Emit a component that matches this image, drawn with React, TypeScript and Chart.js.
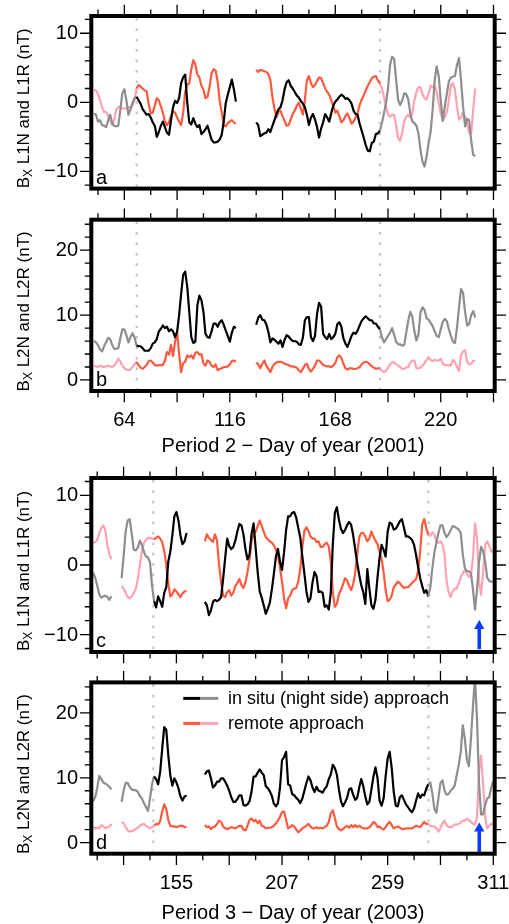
import React, { useEffect, useRef } from "react";
import { Chart, registerables } from "chart.js";

Chart.register(...registerables);

// ---------------- axes / categories ----------------
const P2_RANGE = [47.7, 246.6];
const P3_RANGE = [113.1, 311.7];
const P2_SEG_STARTS = [49, 129];
const P3_SEG_STARTS = [114, 128, 169];
const P2_BOUNDS = [70, 190];
const P3_BOUNDS = [144, 279];
const P2_DOTTED = [70.1, 190];
const P3_DOTTED = [143.6, 279.1];
const P2_MAJOR_TICKS = [64, 90, 116, 142, 168, 194, 220, 246];
const P2_MINOR_TICKS = [51, 77, 103, 129, 155, 181, 207, 233];
const P2_TICK_LABELS = [64, 116, 168, 220];
const P3_MAJOR_TICKS = [129, 155, 181, 207, 233, 259, 285, 311];
const P3_MINOR_TICKS = [116, 142, 168, 194, 220, 246, 272, 298];
const P3_TICK_LABELS = [155, 207, 259, 311];
const L1_Y_MAJOR = [-10, 0, 10];
const L1_Y_MINOR = [-12, -8, -6, -4, -2, 2, 4, 6, 8, 12];
const L2_Y_MAJOR = [0, 10, 20];
const L2_Y_MINOR = [2, 4, 6, 8, 12, 14, 16, 18, 22, 24];
const ARROW_DAY = 304.1;
const ARROW_C = [-12.1, -7.9];
const ARROW_D = [-1.5, 3.1];

// ---------------- Period 2 (2001) ----------------
// panel a, in situ: days 49-119, 129-237
const aInSitu1 = [
  -1.6, -1.8, -2.8, -2.6, -3.3, -3.4, -3.6, -2.6, -1.8, -3.0, -3.4, -3.5, -3.4, -1.1, 1.3, 1.9, 0.3, -1.8, -1.1, -0.1, 0.6, 0.8,
  0.3, -0.2, -1.0, -1.4, -1.8, -1.7, -2.2, -2.9, -3.4, -5.0, -4.3, -3.4, -2.8, -3.6, -4.4, -4.7, -2.6, -0.7, 0.2, -0.1,
  0.6, 2.8, 3.6, 4.0, 0.0, -2.9, -3.2, -2.3, -3.1, -3.6, -3.3, -4.6, -4.3, -3.9, -3.4, -4.4, -5.4, -5.8, -5.8, -5.7,
  -5.4, -4.7, -2.8, -0.1, 1.1, 2.2, 3.3, 1.9, 0.1,
];
const aInSitu2 = [
  -2.9, -3.3, -4.9, -4.7, -4.5, -4.4, -3.9, -4.3, -3.4, -2.6, -1.7, -1.0, -0.7, 0.3, 1.9, 2.9, 3.2, 2.4, 2.0, 1.5,
  1.0, 0.7, 0.2, -0.2, -0.7, -1.8, -3.3, -2.2, -1.7, -2.5, -3.6, -5.1, -3.8, -2.9, -1.7, -2.2, -2.8, -1.6, -0.5, 0.1,
  0.4, 0.8, 1.1, 0.9, 0.5, 0.6, 0.3, -0.2, -1.2, -1.7, -1.8, -3.1, -4.1, -5.1, -6.2, -7.0, -7.1, -5.9, -5.7, -4.6,
  -4.5, -4.1,
  -3.0, -1.6, -0.1, 2.0, 5.4, 6.6, 6.3, 3.2, 0.3, -0.4, 0.3, 1.3, 1.2, 0.4, -1.6, -2.8, -3.0, -3.4, -4.5, -6.9,
  -8.6, -9.3, -7.9, -5.9, -4.3, -1.1, 3.2, 5.2, 3.8, 0.3, -2.7, -0.6, 1.2, 3.0, 3.6, 3.7, 3.8, 5.4, 6.4, 3.2,
  -0.6, -3.5, -2.4, -2.6, -5.5, -7.6, -7.8,
];
// panel a, remote
const aRemote1 = [
  1.8, 1.7, 1.2, 0.3, -0.7, -1.4, -1.4, -2.0, -2.7, -3.3, -2.5, -1.1, -0.7, -0.6, -0.9, -0.9, -0.9, -0.7, -0.7, -0.4, 0.3, 2.0,
  2.5, 2.3, 2.0, 1.7, 1.6, -0.3, -1.6, -1.5, -0.5, 0.6, 0.3, -0.6, -1.5, -2.8, -3.3, -2.9, -2.0, -1.3, -1.5, -2.2,
  -2.8, -3.3, -1.5, 1.5, 2.6, 2.7, 4.8, 6.1, 5.5, 4.0, 3.6, 2.4, 1.8, 0.6, 0.8, 2.2, 4.2, 4.8, 4.6, 3.0,
  0.2, -1.5, -3.3, -3.5, -3.0, -2.8, -2.6, -2.9, -3.1,
];
const aRemote2 = [
  4.7, 4.4, 4.7, 4.6, 4.5, 4.4, 4.1, 3.2, 0.8, -0.9, -2.2, -1.4, -1.2, -2.0, -2.7, -3.4, -3.3, -2.5, -1.7, -1.2,
  -0.5, -0.05, -0.9, -1.8, 0.3, 3.2, 3.8, 2.8, 2.2, 2.5, 3.1, 3.6, 3.5, 2.8, 2.0, 1.5, 1.1, 0.3, -0.5, -1.5,
  -1.2, -2.0, -2.9, -2.6, -2.0, -1.6, -2.3, -3.1, -2.8, -2.2, -1.6, -0.4, 0.4, 1.0, 1.7, 2.4, 2.9, 3.5, 3.7, 3.8,
  3.2, 2.7,
  2.0, 0.8, -0.7, -1.7, -2.1, -1.8, -1.8, -3.4, -5.2, -5.6, -4.4, -2.7, -2.1, -1.8, -2.2, -1.5, 0.3, 1.5, 2.2, 2.2,
  1.2, 0.6, 0.4, 1.3, 2.4, 2.2, 2.4, 1.5, -0.1, -1.6, -2.5, -2.2, -1.4, 0.3, 2.4, 2.8, 1.8, -0.6, -2.5, -2.2,
  -1.5, -2.1, -3.0, -4.4, -4.5, -1.1, 2.0,
];
// panel b, in situ
const bInSitu1 = [
  6.0, 5.8, 5.4, 4.7, 4.4, 5.2, 5.8, 6.5, 6.3, 5.4, 4.8, 4.8, 4.9, 6.4, 7.8, 7.8, 6.9, 5.8, 6.6, 7.2, 6.6, 5.3,
  5.2, 5.2, 4.9, 4.5, 4.5, 4.5, 4.9, 5.6, 5.8, 6.3, 7.5, 7.9, 8.4, 8.0, 8.2, 7.5, 7.8, 7.5, 6.6, 7.4,
  10.0, 13.3, 16.2, 16.7, 14.4, 10.5, 6.6, 5.7, 5.9, 11.5, 13.0, 12.3, 10.5, 7.1, 6.6, 6.5, 7.5, 8.7, 8.7, 8.2,
  8.9, 9.2, 8.5, 7.6, 6.8, 5.9, 7.3, 8.2, 8.0,
];
const bInSitu2 = [
  8.5, 9.6, 10.0, 9.3, 9.2, 8.6, 7.4, 5.8, 6.4, 6.2, 5.9, 5.6, 6.1, 5.1, 6.2, 6.9, 6.7, 6.3, 6.0, 6.0,
  5.9, 5.5, 5.4, 6.5, 9.2, 9.7, 9.7, 6.6, 6.0, 6.8, 10.2, 11.9, 11.3, 7.1, 6.6, 6.3, 7.1, 6.3, 6.6, 7.1,
  8.6, 8.9, 8.2, 6.4, 5.6, 5.1, 5.9, 6.8, 7.3, 7.1, 7.6, 8.4, 9.1, 9.5, 9.8, 9.5, 9.2, 9.2, 8.7, 8.7,
  8.2, 7.8,
  6.6, 5.8, 6.3, 6.8, 7.3, 8.0, 7.0, 5.9, 5.5, 5.5, 5.3, 5.4, 7.3, 9.2, 10.5, 9.7, 7.5, 6.1, 7.0, 10.4,
  11.2, 10.8, 9.5, 9.3, 8.8, 8.3, 7.5, 6.8, 6.6, 7.8, 9.0, 9.4, 9.1, 7.8, 6.8, 5.9, 5.7, 8.0, 11.2, 14.0,
  13.4, 10.5, 8.4, 8.6, 10.0, 10.6, 9.6,
];
// panel b, remote
const bRemote1 = [
  2.2, 2.1, 2.0, 2.2, 2.1, 2.0, 2.1, 2.2, 2.1, 2.0, 2.2, 2.6, 3.3, 2.9, 2.2, 1.8, 1.6, 1.5, 1.6, 2.0, 2.4, 2.8,
  2.3, 1.9, 1.7, 2.0, 2.3, 2.9, 3.0, 2.7, 2.3, 2.2, 2.3, 2.3, 2.3, 3.0, 4.3, 3.9, 5.4, 3.7, 5.9, 7.5,
  4.0, 1.2, 2.6, 2.8, 3.8, 3.5, 3.8, 3.3, 4.2, 4.3, 3.9, 4.0, 2.5, 2.2, 3.0, 2.8, 2.2, 2.0, 2.4, 1.5,
  1.7, 1.8, 2.0, 2.0, 2.1, 2.4, 2.9, 3.0, 2.8,
];
const bRemote2 = [
  2.7, 2.4, 1.8, 2.5, 3.0, 2.2, 1.7, 1.2, 2.0, 2.5, 2.7, 2.8, 2.8, 2.7, 2.5, 2.4, 2.3, 2.1, 2.1, 2.0,
  1.9, 1.5, 1.2, 1.7, 2.3, 2.5, 1.7, 1.3, 1.7, 2.2, 3.0, 3.0, 2.7, 2.3, 2.2, 2.1, 2.1, 2.0, 2.2, 2.6,
  3.5, 3.8, 3.4, 2.5, 1.8, 1.6, 1.8, 1.8, 1.7, 1.7, 1.8, 2.0, 2.4, 2.7, 2.8, 2.7, 2.4, 2.1, 1.9, 1.7,
  1.8, 1.8,
  1.4, 1.2, 1.4, 1.9, 2.4, 2.7, 2.7, 2.4, 2.2, 2.0, 1.7, 1.7, 1.9, 2.0, 2.7, 3.0, 3.0, 1.8, 1.8, 1.9,
  2.2, 2.6, 3.1, 3.5, 3.1, 2.9, 3.1, 3.0, 3.0, 3.3, 2.5, 2.3, 2.3, 2.3, 2.2, 3.1, 2.8, 2.0, 1.4, 3.8,
  4.4, 4.6, 2.8, 2.4, 2.5, 2.9, 3.0,
];

// ---------------- Period 3 (2003) ----------------
// panel c, in situ: days 114-123, 128-160, 169-311
const cInSitu1 = [-1.1, -1.8, -2.9, -4.2, -4.7, -4.5, -4.4, -4.6, -5.0, -4.5];
const cInSitu2 = [
  -1.9, 1.2, 4.8, 6.4, 6.6, 4.5, 2.2, 2.1, 2.5, 3.5, 2.9, 1.9, 1.2, 1.1, 0.4, -3.0,
  -5.2, -6.1, -4.5, -5.2, -6.0, -4.0, -3.2, 0.5, 1.9, 4.3, 7.0, 7.6, 6.4, 4.2, 3.0, 3.4, 4.6,
];
const cInSitu3 = [
  -5.3, -5.8, -7.2, -6.5, -5.3, -5.0, -5.2, -5.0, -4.6, -2.0, 1.0, 3.8, 2.7, 2.3, 2.6, 3.5, 4.8, 5.9, 5.7, 4.4,
  2.3, 0.8, 1.5, 4.5, 6.0, 2.5, -1.0, -3.8, -4.7, -5.8, -7.0, -6.3, -5.4, -3.5, -1.2, 1.2, 2.3, 0.5, -0.7, 1.8,
  5.0, 7.0,
  7.0, 7.5, 7.6, 6.8, 5.3, 3.9, 1.2, -1.2, -3.8, -5.3, -4.8, -2.5, -1.0, -1.6, -3.9, -3.8, -4.0, -6.0, -5.8, -6.4,
  -4.0, 3.0, 7.5, 8.3, 6.5, 5.2, 4.6, 5.0, 5.7, 6.2, 5.8, 4.3, 2.3, 0.3, -1.4, -2.9, -3.9, -5.6, -0.6, -3.4,
  -5.8, -6.3, -5.0, -1.8, 1.0, 2.9, 2.2, 1.2, 4.8, 6.1, 5.9, 5.1, 5.2, 5.7, 6.3, 6.6, 5.4, 4.1, 4.1, 3.9,
  3.6, 2.9, 1.4, -0.3, -1.9, -3.0, -4.0, -3.6,
  -4.5, -3.2, -0.5, 1.8, 3.2, 4.6, 5.7, 5.7, 4.6, 4.0, 4.4, 5.0, 5.6, 5.5, 5.3, 5.1, 4.6, 1.5, -0.4, -0.9,
  -0.9, -1.2, -3.5, -6.4, -3.5, 0.5, 2.6, 2.0, 0.5, -1.8, -2.3, -2.4, -2.4,
];
// panel c, remote
const cRemote1 = [3.2, 3.3, 3.6, 4.6, 5.3, 5.7, 5.0, 2.8, 1.6, 0.8];
const cRemote2 = [
  -3.0, -3.4, -4.0, -4.6, -4.8, -4.5, -4.0, -3.4, -2.0, 0.0, 2.0, 3.2, 3.6, 3.9, 3.9, 3.8,
  3.7, 3.9, 4.1, 3.8, 3.3, 2.0, 0.0, -2.6, -4.5, -4.2, -3.5, -3.8, -4.2, -4.6, -4.1, -3.8, -3.7,
];
const cRemote3 = [
  3.4, 4.4, 3.9, 3.6, 3.3, 4.4, 3.5, 0.0, -2.5, -4.4, -4.6, -3.9, -3.6, -4.4, -4.0, -3.0, -2.6, -2.0, -2.9, -3.3,
  -2.5, -1.0, 0.8, 3.5, 4.4, 4.8, 5.6, 6.4, 5.6, 4.8, 4.0, 3.7, 3.4, 3.2, 2.8, 2.2, 1.4, -0.4, -2.4, -4.8,
  -6.2,
  -4.8, -4.4, -3.6, -3.4, -3.3, -2.4, -0.5, 2.6, 4.9, 5.4, 4.9, 4.1, 3.8, 3.8, 3.3, 3.4, 2.6, 2.6, 3.0, 3.2,
  2.7, 0.5, -4.0, -6.0, -5.6, -4.2, -3.6, -2.8, -1.9, -2.2, -3.0, -3.6, -2.8, -1.2, 1.5, 4.0, 4.6, 4.6, 4.1, 3.4,
  3.8, 4.8, 4.1, 3.5, 3.0, 1.9, 0.9, -1.0, -3.6, -5.2, -5.0, -4.4, -3.2, -2.8, -2.4, -2.6, -3.0, -3.3, -3.2, -3.2,
  -2.9, -2.6, -2.3, -2.0, -0.8, 1.9, 5.8, 6.6, 5.3,
  4.3, 4.2, 4.7, 4.4, 3.4, 3.2, 3.4, 3.0, 1.5, -2.3, -3.9, -4.6, -3.8, -3.4, -3.4, -2.6, -1.7, -1.2, -0.7, -1.2,
  -1.7, -1.5, 1.0, 6.0, 4.0, -2.5, -4.3, -1.0, 2.8, 3.4, 2.8, 2.0, 1.8,
];
// panel d, in situ
const dInSitu1 = [6.4, 7.0, 8.4, 10.3, 9.8, 9.3, 9.1, 8.9, 8.6, 8.2];
const dInSitu2 = [
  6.3, 8.0, 9.2, 9.2, 8.6, 8.2, 8.1, 8.1, 7.8, 7.2, 6.8, 6.1, 5.5, 4.9, 6.8, 9.0,
  10.2, 9.8, 9.0, 10.9, 14.5, 17.8, 17.4, 13.5, 10.4, 8.8, 9.9, 9.3, 8.4, 7.1, 6.5, 7.1, 7.3,
];
const dInSitu3 = [
  10.5, 11.0, 11.1, 9.9, 8.5, 8.8, 9.4, 9.4, 9.9, 9.9, 9.4, 8.8, 8.0, 7.0, 6.3, 6.3, 6.7, 7.3, 7.3, 5.8,
  5.7, 5.9, 6.4, 7.9, 10.2, 10.2, 10.8, 11.3, 10.8, 10.4, 8.7, 8.4, 7.9, 7.2, 6.0, 5.6, 6.1, 8.5, 12.7, 13.2,
  14.0, 9.0,
  8.8, 7.5, 7.3, 6.9, 6.6, 6.1, 6.8, 8.0, 9.2, 10.2, 9.6, 8.5, 7.8, 8.6, 8.0, 7.9, 7.7, 8.3, 8.7, 9.8,
  10.5, 12.0, 11.5, 10.5, 8.2, 6.4, 5.6, 6.2, 6.9, 8.2, 8.4, 7.4, 6.6, 6.9, 8.5, 9.8, 8.7, 7.1, 5.9, 6.3,
  8.2, 10.2, 11.6, 10.0, 6.5, 5.7, 6.8, 10.2, 13.0, 14.0, 11.5, 7.8, 5.7, 5.6, 7.0, 7.3, 6.6, 5.9, 5.5, 5.0,
  4.7, 5.3, 6.5, 7.6, 6.9, 7.4, 7.3, 8.3,
  9.0, 9.3, 7.6, 5.2, 4.6, 6.9, 9.2, 9.6, 8.0, 7.4, 7.5, 8.0, 8.3, 8.8, 10.4, 12.0, 14.0, 18.1, 16.0, 12.8,
  11.8, 16.0, 21.0, 25.5, 19.0, 9.0, 4.3, 4.4, 5.8, 6.8, 7.0, 8.5, 9.5,
];
// panel d, remote
const dRemote1 = [2.4, 2.2, 2.3, 2.2, 2.7, 2.5, 2.2, 2.4, 2.5, 2.9];
const dRemote2 = [
  3.2, 3.0, 2.4, 1.9, 1.7, 1.8, 1.9, 2.1, 2.3, 2.6, 2.8, 2.9, 2.6, 2.4, 2.2, 2.4,
  2.6, 2.9, 2.8, 3.3, 4.8, 5.9, 5.2, 3.5, 2.6, 2.5, 2.5, 2.4, 2.5, 2.6, 2.6, 2.4, 2.4,
];
const dRemote3 = [
  2.7, 2.4, 2.5, 2.1, 2.4, 2.5, 2.9, 3.4, 3.2, 2.5, 2.2, 2.1, 2.2, 2.4, 2.3, 2.2, 2.4, 2.6, 2.6, 2.0,
  1.9, 2.6, 3.5, 3.7, 3.3, 3.5, 3.0, 3.4, 2.6, 2.5, 2.2, 2.3, 2.3, 2.4, 2.6, 3.0, 3.4, 4.0, 4.7, 4.8,
  3.5, 2.2,
  2.4, 2.7, 2.5, 2.0, 1.6, 1.9, 2.2, 2.4, 2.6, 2.9, 2.5, 2.2, 2.2, 2.4, 2.2, 2.3, 2.2, 2.4, 2.6, 3.2,
  4.5, 5.0, 3.8, 2.5, 2.1, 1.9, 2.1, 2.4, 2.6, 2.3, 2.7, 2.4, 2.7, 2.4, 2.6, 2.4, 2.2, 2.2, 2.2, 2.4,
  2.7, 3.2, 3.0, 2.4, 2.5, 2.2, 2.0, 2.4, 2.9, 3.2, 2.7, 2.2, 2.4, 2.5, 2.3, 2.1, 2.1, 2.2, 2.2, 2.2,
  2.2, 2.4, 2.6, 2.5, 2.4, 2.8, 3.2, 2.9,
  2.9, 2.6, 2.5, 2.5, 2.2, 1.7, 2.3, 3.0, 3.4, 2.7, 2.4, 2.4, 2.5, 2.8, 2.8, 2.9, 3.1, 3.4, 3.4, 3.7,
  3.5, 3.2, 2.9, 2.8, 4.0, 11.0, 13.4, 9.0, 4.0, 2.2, 2.6, 2.9, 2.9,
];

// ---------------- styling ----------------
const FONT = '"Liberation Sans", Arial, Helvetica, sans-serif';
const COLORS = {
  insituDark: "#000000",
  insituLight: "#8e8e8e",
  remoteDark: "#ff5a3f",
  remoteLight: "#ffa3b3",
  dotted: "#c4c4c4",
  arrow: "#0a3cff",
};

const PERIODS: any = {
  2: { range: P2_RANGE, starts: P2_SEG_STARTS, bounds: P2_BOUNDS, dotted: P2_DOTTED, major: P2_MAJOR_TICKS, minor: P2_MINOR_TICKS, labels: P2_TICK_LABELS },
  3: { range: P3_RANGE, starts: P3_SEG_STARTS, bounds: P3_BOUNDS, dotted: P3_DOTTED, major: P3_MAJOR_TICKS, minor: P3_MINOR_TICKS, labels: P3_TICK_LABELS },
};

const PANELS: any[] = [
  {
    letter: "a", canvasTop: 0, canvasH: 205, pad: { left: 91.3, right: 14.3, top: 16, bottom: 16.4 },
    yMin: -12.5, yMax: 12.5, yMajor: L1_Y_MAJOR, yMinor: L1_Y_MINOR, yTitle: "L1N and L1R (nT)",
    period: 2, insitu: [aInSitu1, aInSitu2], remote: [aRemote1, aRemote2],
  },
  {
    letter: "b", canvasTop: 205, canvasH: 255, pad: { left: 91.3, right: 14.3, top: 14.7, bottom: 69 },
    yMin: -1.7, yMax: 24.7, yMajor: L2_Y_MAJOR, yMinor: L2_Y_MINOR, yTitle: "L2N and L2R (nT)",
    period: 2, insitu: [bInSitu1, bInSitu2], remote: [bRemote1, bRemote2],
    xLabels: true, xTitle: "Period 2 \u2212 Day of year (2001)", xTitleDy: 61.3,
  },
  {
    letter: "c", canvasTop: 460, canvasH: 205, pad: { left: 91.3, right: 14.3, top: 18, bottom: 13 },
    yMin: -12.5, yMax: 12.5, yMajor: L1_Y_MAJOR, yMinor: L1_Y_MINOR, yTitle: "L1N and L1R (nT)",
    period: 3, insitu: [cInSitu1, cInSitu2, cInSitu3], remote: [cRemote1, cRemote2, cRemote3],
    arrow: ARROW_C,
  },
  {
    letter: "d", canvasTop: 665, canvasH: 259, pad: { left: 91.3, right: 14.3, top: 17.4, bottom: 70.3 },
    yMin: -1.7, yMax: 24.7, yMajor: L2_Y_MAJOR, yMinor: L2_Y_MINOR, yTitle: "L2N and L2R (nT)",
    period: 3, insitu: [dInSitu1, dInSitu2, dInSitu3], remote: [dRemote1, dRemote2, dRemote3],
    arrow: ARROW_D, legend: true,
    xLabels: true, xTitle: "Period 3 \u2212 Day of year (2003)", xTitleDy: 65.3,
  },
];

function buildPoints(starts: number[], segs: number[][]) {
  const pts: any[] = [];
  segs.forEach((vals, si) => {
    if (si > 0) pts.push({ x: starts[si] - 0.5, y: null });
    vals.forEach((v, i) => pts.push({ x: starts[si] + i, y: v }));
  });
  return pts;
}

function lineDataset(label: string, starts: number[], segs: number[][], bounds: number[], dark: string, light: string) {
  return {
    label,
    data: buildPoints(starts, segs),
    borderColor: dark,
    borderWidth: 2.2,
    pointRadius: 0,
    pointHoverRadius: 0,
    tension: 0,
    spanGaps: false,
    fill: false,
    borderJoinStyle: "round",
    segment: {
      borderColor: (c: any) => (c.p0.parsed.x >= bounds[0] && c.p1.parsed.x <= bounds[1] ? dark : light),
    },
  };
}

function fmt(v: number) {
  return v < 0 ? "\u2212" + Math.abs(v) : String(v);
}

function drawYTitle(ctx: CanvasRenderingContext2D, text: string, bx: number, cy: number) {
  ctx.save();
  ctx.translate(bx, cy);
  ctx.rotate(-Math.PI / 2);
  const main = "17px " + FONT;
  const sub = "12px " + FONT;
  ctx.font = main;
  const wB = ctx.measureText("B").width;
  const wRest = ctx.measureText(" " + text).width;
  ctx.font = sub;
  const wX = ctx.measureText("X").width;
  let xx = -(wB + wX + wRest) / 2;
  ctx.fillStyle = "#000";
  ctx.textAlign = "left";
  ctx.textBaseline = "alphabetic";
  ctx.font = main;
  ctx.fillText("B", xx, 0);
  xx += wB;
  ctx.font = sub;
  ctx.fillText("X", xx, 3);
  xx += wX;
  ctx.font = main;
  ctx.fillText(" " + text, xx, 0);
  ctx.restore();
}

function makePlugin(p: any) {
  const per = PERIODS[p.period];
  return {
    id: "frame_" + p.letter,
    beforeDatasetsDraw(chart: any) {
      const { ctx, chartArea: a, scales } = chart;
      ctx.save();
      ctx.strokeStyle = COLORS.dotted;
      ctx.lineWidth = 2.2;
      ctx.setLineDash([2.6, 7.8]);
      for (const d of per.dotted) {
        const px = scales.x.getPixelForValue(d);
        ctx.beginPath();
        ctx.moveTo(px, a.top + 2);
        ctx.lineTo(px, a.bottom);
        ctx.stroke();
      }
      ctx.restore();
    },
    afterDatasetsDraw(chart: any) {
      const { ctx, chartArea: a, scales } = chart;
      const xs = scales.x;
      const ys = scales.y;
      ctx.save();
      // arrow
      if (p.arrow) {
        const ax = xs.getPixelForValue(ARROW_DAY);
        const yb = ys.getPixelForValue(p.arrow[0]);
        const yt = ys.getPixelForValue(p.arrow[1]);
        ctx.strokeStyle = COLORS.arrow;
        ctx.fillStyle = COLORS.arrow;
        ctx.lineWidth = 3.6;
        ctx.beginPath();
        ctx.moveTo(ax, yb);
        ctx.lineTo(ax, yt + 7);
        ctx.stroke();
        ctx.beginPath();
        ctx.moveTo(ax, yt);
        ctx.lineTo(ax - 5.2, yt + 9);
        ctx.lineTo(ax + 5.2, yt + 9);
        ctx.closePath();
        ctx.fill();
      }
      // frame
      ctx.strokeStyle = "#000";
      ctx.lineWidth = 4;
      ctx.strokeRect(a.left, a.top, a.right - a.left, a.bottom - a.top);
      // ticks
      ctx.lineWidth = 1.3;
      ctx.beginPath();
      const yt = (vals: number[], len: number) => {
        for (const v of vals) {
          const py = ys.getPixelForValue(v);
          ctx.moveTo(a.left, py);
          ctx.lineTo(a.left - len, py);
          ctx.moveTo(a.right, py);
          ctx.lineTo(a.right + len, py);
        }
      };
      const xt = (vals: number[], len: number) => {
        for (const v of vals) {
          const px = xs.getPixelForValue(v);
          ctx.moveTo(px, a.top);
          ctx.lineTo(px, a.top - len);
          ctx.moveTo(px, a.bottom);
          ctx.lineTo(px, a.bottom + len);
        }
      };
      yt(p.yMajor, 11.3);
      yt(p.yMinor, 6.5);
      xt(per.major, 11.3);
      xt(per.minor, 6.5);
      ctx.stroke();
      // y tick labels
      ctx.fillStyle = "#000";
      ctx.font = "20px " + FONT;
      ctx.textAlign = "right";
      ctx.textBaseline = "middle";
      for (const v of p.yMajor) ctx.fillText(fmt(v), 78, ys.getPixelForValue(v) + 0.5);
      // x tick labels + title
      if (p.xLabels) {
        ctx.textAlign = "center";
        ctx.textBaseline = "alphabetic";
        for (const d of per.labels) ctx.fillText(String(d), xs.getPixelForValue(d), a.bottom + 35);
        ctx.fillText(p.xTitle, (a.left + a.right) / 2, a.bottom + p.xTitleDy);
      }
      // panel letter
      ctx.textAlign = "left";
      ctx.textBaseline = "alphabetic";
      ctx.font = "20px " + FONT;
      ctx.fillText(p.letter, a.left + 4.7, a.bottom - 4.8);
      // legend
      if (p.legend) {
        const lx = a.left + 92;
        const rows = [
          { dy: 16, c1: COLORS.insituDark, c2: COLORS.insituLight, text: "in situ (night side) approach" },
          { dy: 41, c1: COLORS.remoteDark, c2: COLORS.remoteLight, text: "remote approach" },
        ];
        ctx.lineWidth = 3;
        for (const r of rows) {
          ctx.strokeStyle = r.c1;
          ctx.beginPath();
          ctx.moveTo(lx, a.top + r.dy);
          ctx.lineTo(lx + 17, a.top + r.dy);
          ctx.stroke();
          ctx.strokeStyle = r.c2;
          ctx.beginPath();
          ctx.moveTo(lx + 17, a.top + r.dy);
          ctx.lineTo(lx + 35, a.top + r.dy);
          ctx.stroke();
          ctx.font = "18px " + FONT;
          ctx.fillStyle = "#000";
          ctx.fillText(r.text, a.left + 136.7, a.top + r.dy + 6);
        }
      }
      // y title
      drawYTitle(ctx, p.yTitle, 29, (a.top + a.bottom) / 2 + 6);
      ctx.restore();
    },
  };
}

function buildConfig(p: any): any {
  const per = PERIODS[p.period];
  return {
    type: "line",
    data: {
      datasets: [
        lineDataset("in situ (night side) approach", per.starts, p.insitu, per.bounds, COLORS.insituDark, COLORS.insituLight),
        lineDataset("remote approach", per.starts, p.remote, per.bounds, COLORS.remoteDark, COLORS.remoteLight),
      ],
    },
    options: {
      animation: false,
      responsive: false,
      maintainAspectRatio: false,
      devicePixelRatio: 1,
      events: [],
      layout: { padding: p.pad },
      plugins: { legend: { display: false }, tooltip: { enabled: false }, title: { display: false } },
      scales: {
        x: { type: "linear", min: per.range[0], max: per.range[1], display: false },
        y: { type: "linear", min: p.yMin, max: p.yMax, display: false },
      },
    },
    plugins: [makePlugin(p)],
  };
}

export default function App() {
  const r0 = useRef<HTMLCanvasElement>(null);
  const r1 = useRef<HTMLCanvasElement>(null);
  const r2 = useRef<HTMLCanvasElement>(null);
  const r3 = useRef<HTMLCanvasElement>(null);
  const refs = [r0, r1, r2, r3];
  useEffect(() => {
    const charts = PANELS.map((p, i) => new Chart(refs[i].current as HTMLCanvasElement, buildConfig(p)));
    return () => charts.forEach((c) => c.destroy());
  }, []);
  return (
    <div style={{ position: "absolute", left: 0, top: 0, width: 509, height: 924, background: "#fff", overflow: "hidden" }}>
      {PANELS.map((p, i) => (
        <canvas
          key={p.letter}
          ref={refs[i]}
          width={509}
          height={p.canvasH}
          style={{ position: "absolute", left: 0, top: p.canvasTop, width: 509, height: p.canvasH }}
        />
      ))}
    </div>
  );
}
